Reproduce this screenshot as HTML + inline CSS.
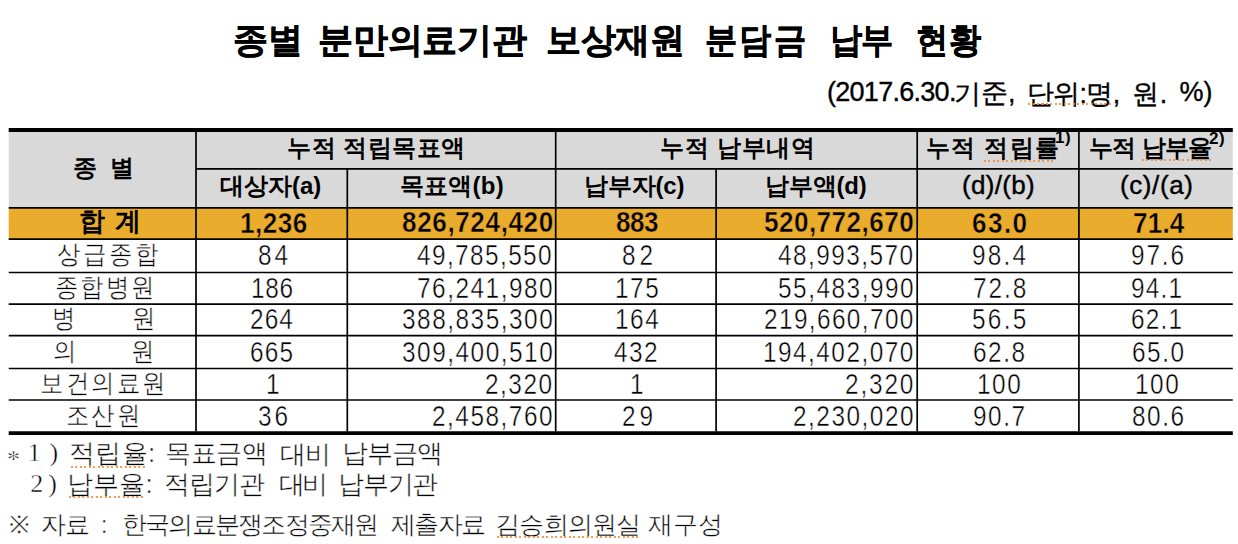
<!DOCTYPE html>
<html><head><meta charset="utf-8">
<style>
html,body{margin:0;padding:0;background:#fff;}
body{width:1238px;height:544px;position:relative;overflow:hidden;font-family:"Liberation Sans",sans-serif;color:#000;}
.a{position:absolute;}
.ln{position:absolute;background:#111;}
.t{position:absolute;white-space:pre;line-height:1;}

</style></head><body>

<svg class="a" width="1238" height="544" style="left:0;top:0;">
<g class="bg"><rect x="8.7" y="131" width="1224.1" height="77" fill="#d9d9d9"/>
<rect x="8.7" y="208" width="1224.1" height="31" fill="#e9ac2c"/></g>
<g class="ln" stroke="#000" stroke-width="1.7" fill="none">
<path d="M8.7 130H1232.8" stroke-width="4"/>
<path d="M196 168.8H1232.8"/>
<path d="M8.7 207.8H1232.8"/>
<path d="M8.7 239.1H1232.8"/>
<path d="M8.7 272.5H1232.8"/>
<path d="M8.7 304.1H1232.8"/>
<path d="M8.7 335.6H1232.8"/>
<path d="M8.7 368.5H1232.8"/>
<path d="M8.7 400H1232.8"/>
<path d="M8.7 433.1H1232.8" stroke-width="3.8"/>
<path d="M196 132V431.5"/>
<path d="M347.3 168.8V431.5"/>
<path d="M555.7 132V431.5"/>
<path d="M716.1 168.8V431.5"/>
<path d="M917.2 132V431.5"/>
<path d="M1078.9 132V431.5"/>
</g></svg>

<div class="t" id="ti0" style="left:232.50px;top:21.50px;font-size:35px;letter-spacing:0.900px;font-weight:bold;-webkit-text-stroke:0.5px #000;">종별</div>
<div class="t" id="ti1" style="left:318.00px;top:21.50px;font-size:35px;letter-spacing:-0.180px;font-weight:bold;-webkit-text-stroke:0.5px #000;">분만의료기관</div>
<div class="t" id="ti2" style="left:546.00px;top:21.50px;font-size:35px;letter-spacing:-0.300px;font-weight:bold;-webkit-text-stroke:0.5px #000;">보상재원</div>
<div class="t" id="ti3" style="left:705.00px;top:21.50px;font-size:35px;letter-spacing:2.446px;font-weight:bold;-webkit-text-stroke:0.5px #000;transform:scaleX(0.92);transform-origin:0 0;">분담금</div>
<div class="t" id="ti4" style="left:830.00px;top:21.50px;font-size:35px;letter-spacing:-0.978px;font-weight:bold;-webkit-text-stroke:0.5px #000;transform:scaleX(0.92);transform-origin:0 0;">납부</div>
<div class="t" id="ti5" style="left:916.00px;top:21.50px;font-size:35px;letter-spacing:0.978px;font-weight:bold;-webkit-text-stroke:0.5px #000;transform:scaleX(0.92);transform-origin:0 0;">현황</div>
<div class="t" id="st0" style="left:827.00px;top:79.30px;font-size:27px;letter-spacing:-0.720px;font-weight:normal;-webkit-text-stroke:0.35px #000;">(2017.6.30.</div>
<div class="t" id="st1" style="left:953.90px;top:81.30px;font-size:27px;letter-spacing:0.000px;font-weight:normal;-webkit-text-stroke:0.35px #000;">기</div>
<div class="t" id="st2" style="left:981.00px;top:80.30px;font-size:27px;letter-spacing:0.000px;font-weight:normal;-webkit-text-stroke:0.35px #000;">준,</div>
<div class="t" id="st3" style="left:1026.50px;top:81.30px;font-size:27px;letter-spacing:-0.540px;font-weight:normal;-webkit-text-stroke:0.35px #000;">단위:명,</div>
<div class="t" id="st4" style="left:1131.60px;top:81.30px;font-size:27px;letter-spacing:1.260px;font-weight:normal;-webkit-text-stroke:0.35px #000;">원.</div>
<div class="t" id="st5" style="left:1179.50px;top:79.30px;font-size:27px;letter-spacing:0.000px;font-weight:normal;-webkit-text-stroke:0.35px #000;">%)</div>
<div class="t" id="h0" style="left:73.00px;top:155.80px;font-size:24px;letter-spacing:12.600px;font-weight:bold;">종별</div>
<div class="t" id="h1" style="left:287.00px;top:135.70px;font-size:24px;letter-spacing:0.514px;font-weight:bold;">누적 적립목표액</div>
<div class="t" id="h2" style="left:660.00px;top:135.70px;font-size:24px;letter-spacing:0.750px;font-weight:bold;">누적 납부내역</div>
<div class="t" id="h3" style="left:926.00px;top:135.70px;font-size:24px;letter-spacing:1.260px;font-weight:bold;">누적 적립률</div>
<div class="t" id="sup1" style="left:1055.10px;top:129.30px;font-size:17px;letter-spacing:0.540px;font-weight:bold;">1)</div>
<div class="t" id="h4" style="left:1089.00px;top:135.70px;font-size:24px;letter-spacing:-0.720px;font-weight:bold;">누적 납부율</div>
<div class="t" id="sup2" style="left:1209.00px;top:129.50px;font-size:17px;letter-spacing:0.540px;font-weight:bold;">2)</div>
<div class="t" id="h5" style="left:220.00px;top:173.90px;font-size:24px;letter-spacing:0.000px;font-weight:bold;">대상자(a)</div>
<div class="t" id="h6" style="left:399.60px;top:173.90px;font-size:24px;letter-spacing:0.288px;font-weight:bold;">목표액(b)</div>
<div class="t" id="h7" style="left:584.00px;top:173.90px;font-size:24px;letter-spacing:-0.180px;font-weight:bold;">납부자(c)</div>
<div class="t" id="h8" style="left:765.00px;top:173.90px;font-size:24px;letter-spacing:-0.180px;font-weight:bold;">납부액(d)</div>
<div class="t" id="h9" style="left:962.00px;top:172.10px;font-size:26px;letter-spacing:0.300px;font-weight:normal;-webkit-text-stroke:0.4px #000;">(d)/(b)</div>
<div class="t" id="h10" style="left:1120.00px;top:172.10px;font-size:26px;letter-spacing:0.600px;font-weight:normal;-webkit-text-stroke:0.4px #000;">(c)/(a)</div>
<div class="t" id="t0" style="left:79.00px;top:207.80px;font-size:26px;letter-spacing:9.600px;font-weight:bold;">합계</div>
<div class="t" id="t1" style="left:240.00px;top:208.80px;font-size:29px;letter-spacing:0.550px;font-weight:bold;transform:scaleX(0.9);transform-origin:0 0;-webkit-text-stroke:0.5px #e9ac2c;">1,236</div>
<div class="t" id="t2" style="left:402.00px;top:208.20px;font-size:29px;letter-spacing:0.680px;font-weight:bold;transform:scaleX(0.9);transform-origin:0 0;-webkit-text-stroke:0.5px #e9ac2c;">826,724,420</div>
<div class="t" id="t3" style="left:616.00px;top:208.20px;font-size:29px;letter-spacing:-0.600px;font-weight:bold;transform:scaleX(0.9);transform-origin:0 0;-webkit-text-stroke:0.5px #e9ac2c;">883</div>
<div class="t" id="t4" style="left:764.00px;top:208.20px;font-size:29px;letter-spacing:0.500px;font-weight:bold;transform:scaleX(0.9);transform-origin:0 0;-webkit-text-stroke:0.5px #e9ac2c;">520,772,670</div>
<div class="t" id="t5" style="left:972.20px;top:208.60px;font-size:29px;letter-spacing:1.600px;font-weight:bold;transform:scaleX(0.9);transform-origin:0 0;-webkit-text-stroke:0.5px #e9ac2c;">63.0</div>
<div class="t" id="t6" style="left:1133.30px;top:208.60px;font-size:29px;letter-spacing:0.200px;font-weight:bold;transform:scaleX(0.9);transform-origin:0 0;-webkit-text-stroke:0.5px #e9ac2c;">71.4</div>
<div class="t" id="r0c0" style="left:56.90px;top:241.25px;font-size:26px;letter-spacing:2.733px;font-weight:normal;-webkit-text-stroke:0.45px #fff;transform:scaleX(0.9);transform-origin:0 0;">상급종합</div>
<div class="t" id="r0c1" style="left:257.80px;top:241.25px;font-size:29px;letter-spacing:3.586px;font-weight:normal;-webkit-text-stroke:0.45px #fff;transform:scaleX(0.84);transform-origin:0 0;">84</div>
<div class="t" id="r0c2" style="left:417.20px;top:241.25px;font-size:29px;letter-spacing:1.681px;font-weight:normal;-webkit-text-stroke:0.45px #fff;transform:scaleX(0.84);transform-origin:0 0;">49,785,550</div>
<div class="t" id="r0c3" style="left:622.00px;top:241.25px;font-size:29px;letter-spacing:4.657px;font-weight:normal;-webkit-text-stroke:0.45px #fff;transform:scaleX(0.84);transform-origin:0 0;">82</div>
<div class="t" id="r0c4" style="left:777.60px;top:241.25px;font-size:29px;letter-spacing:1.752px;font-weight:normal;-webkit-text-stroke:0.45px #fff;transform:scaleX(0.84);transform-origin:0 0;">48,993,570</div>
<div class="t" id="r0c5" style="left:972.00px;top:241.25px;font-size:29px;letter-spacing:2.586px;font-weight:normal;-webkit-text-stroke:0.45px #fff;transform:scaleX(0.84);transform-origin:0 0;">98.4</div>
<div class="t" id="r0c6" style="left:1131.00px;top:241.25px;font-size:29px;letter-spacing:2.229px;font-weight:normal;-webkit-text-stroke:0.45px #fff;transform:scaleX(0.84);transform-origin:0 0;">97.6</div>
<div class="t" id="r1c0" style="left:54.80px;top:273.75px;font-size:26px;letter-spacing:2.133px;font-weight:normal;-webkit-text-stroke:0.45px #fff;transform:scaleX(0.9);transform-origin:0 0;">종합병원</div>
<div class="t" id="r1c1" style="left:251.00px;top:273.75px;font-size:29px;letter-spacing:0.800px;font-weight:normal;-webkit-text-stroke:0.45px #fff;transform:scaleX(0.84);transform-origin:0 0;">186</div>
<div class="t" id="r1c2" style="left:416.80px;top:273.75px;font-size:29px;letter-spacing:1.813px;font-weight:normal;-webkit-text-stroke:0.45px #fff;transform:scaleX(0.84);transform-origin:0 0;">76,241,980</div>
<div class="t" id="r1c3" style="left:615.20px;top:273.75px;font-size:29px;letter-spacing:1.813px;font-weight:normal;-webkit-text-stroke:0.45px #fff;transform:scaleX(0.84);transform-origin:0 0;">175</div>
<div class="t" id="r1c4" style="left:778.00px;top:273.75px;font-size:29px;letter-spacing:1.813px;font-weight:normal;-webkit-text-stroke:0.45px #fff;transform:scaleX(0.84);transform-origin:0 0;">55,483,990</div>
<div class="t" id="r1c5" style="left:972.60px;top:273.75px;font-size:29px;letter-spacing:2.371px;font-weight:normal;-webkit-text-stroke:0.45px #fff;transform:scaleX(0.84);transform-origin:0 0;">72.8</div>
<div class="t" id="r1c6" style="left:1131.00px;top:273.75px;font-size:29px;letter-spacing:1.443px;font-weight:normal;-webkit-text-stroke:0.45px #fff;transform:scaleX(0.84);transform-origin:0 0;">94.1</div>
<div class="t" id="r2c0" style="left:52.00px;top:305.25px;font-size:26px;letter-spacing:63.200px;font-weight:normal;-webkit-text-stroke:0.45px #fff;transform:scaleX(0.9);transform-origin:0 0;">병원</div>
<div class="t" id="r2c1" style="left:250.00px;top:305.25px;font-size:29px;letter-spacing:1.336px;font-weight:normal;-webkit-text-stroke:0.45px #fff;transform:scaleX(0.84);transform-origin:0 0;">264</div>
<div class="t" id="r2c2" style="left:401.80px;top:305.25px;font-size:29px;letter-spacing:1.813px;font-weight:normal;-webkit-text-stroke:0.45px #fff;transform:scaleX(0.84);transform-origin:0 0;">388,835,300</div>
<div class="t" id="r2c3" style="left:614.70px;top:305.25px;font-size:29px;letter-spacing:1.813px;font-weight:normal;-webkit-text-stroke:0.45px #fff;transform:scaleX(0.84);transform-origin:0 0;">164</div>
<div class="t" id="r2c4" style="left:763.60px;top:305.25px;font-size:29px;letter-spacing:1.657px;font-weight:normal;-webkit-text-stroke:0.45px #fff;transform:scaleX(0.84);transform-origin:0 0;">219,660,700</div>
<div class="t" id="r2c5" style="left:971.60px;top:305.25px;font-size:29px;letter-spacing:2.729px;font-weight:normal;-webkit-text-stroke:0.45px #fff;transform:scaleX(0.84);transform-origin:0 0;">56.5</div>
<div class="t" id="r2c6" style="left:1131.00px;top:305.25px;font-size:29px;letter-spacing:1.443px;font-weight:normal;-webkit-text-stroke:0.45px #fff;transform:scaleX(0.84);transform-origin:0 0;">62.1</div>
<div class="t" id="r3c0" style="left:53.40px;top:338.00px;font-size:26px;letter-spacing:61.000px;font-weight:normal;-webkit-text-stroke:0.45px #fff;transform:scaleX(0.9);transform-origin:0 0;">의원</div>
<div class="t" id="r3c1" style="left:250.00px;top:338.00px;font-size:29px;letter-spacing:1.443px;font-weight:normal;-webkit-text-stroke:0.45px #fff;transform:scaleX(0.84);transform-origin:0 0;">665</div>
<div class="t" id="r3c2" style="left:401.80px;top:338.00px;font-size:29px;letter-spacing:1.813px;font-weight:normal;-webkit-text-stroke:0.45px #fff;transform:scaleX(0.84);transform-origin:0 0;">309,400,510</div>
<div class="t" id="r3c3" style="left:614.20px;top:338.00px;font-size:29px;letter-spacing:1.764px;font-weight:normal;-webkit-text-stroke:0.45px #fff;transform:scaleX(0.84);transform-origin:0 0;">432</div>
<div class="t" id="r3c4" style="left:763.20px;top:338.00px;font-size:29px;letter-spacing:1.764px;font-weight:normal;-webkit-text-stroke:0.45px #fff;transform:scaleX(0.84);transform-origin:0 0;">194,402,070</div>
<div class="t" id="r3c5" style="left:973.20px;top:338.00px;font-size:29px;letter-spacing:1.813px;font-weight:normal;-webkit-text-stroke:0.45px #fff;transform:scaleX(0.84);transform-origin:0 0;">62.8</div>
<div class="t" id="r3c6" style="left:1131.80px;top:338.00px;font-size:29px;letter-spacing:1.813px;font-weight:normal;-webkit-text-stroke:0.45px #fff;transform:scaleX(0.84);transform-origin:0 0;">65.0</div>
<div class="t" id="r4c0" style="left:40.40px;top:369.75px;font-size:26px;letter-spacing:2.400px;font-weight:normal;-webkit-text-stroke:0.45px #fff;transform:scaleX(0.9);transform-origin:0 0;">보건의료원</div>
<div class="t" id="r4c1" style="left:265.60px;top:369.75px;font-size:29px;letter-spacing:1.813px;font-weight:normal;-webkit-text-stroke:0.45px #fff;transform:scaleX(0.84);transform-origin:0 0;">1</div>
<div class="t" id="r4c2" style="left:484.80px;top:369.75px;font-size:29px;letter-spacing:1.813px;font-weight:normal;-webkit-text-stroke:0.45px #fff;transform:scaleX(0.84);transform-origin:0 0;">2,320</div>
<div class="t" id="r4c3" style="left:630.20px;top:369.75px;font-size:29px;letter-spacing:1.813px;font-weight:normal;-webkit-text-stroke:0.45px #fff;transform:scaleX(0.84);transform-origin:0 0;">1</div>
<div class="t" id="r4c4" style="left:845.00px;top:369.75px;font-size:29px;letter-spacing:2.193px;font-weight:normal;-webkit-text-stroke:0.45px #fff;transform:scaleX(0.84);transform-origin:0 0;">2,320</div>
<div class="t" id="r4c5" style="left:976.70px;top:369.75px;font-size:29px;letter-spacing:1.813px;font-weight:normal;-webkit-text-stroke:0.45px #fff;transform:scaleX(0.84);transform-origin:0 0;">100</div>
<div class="t" id="r4c6" style="left:1135.30px;top:369.75px;font-size:29px;letter-spacing:1.813px;font-weight:normal;-webkit-text-stroke:0.45px #fff;transform:scaleX(0.84);transform-origin:0 0;">100</div>
<div class="t" id="r5c0" style="left:66.10px;top:401.50px;font-size:26px;letter-spacing:2.200px;font-weight:normal;-webkit-text-stroke:0.45px #fff;transform:scaleX(0.9);transform-origin:0 0;">조산원</div>
<div class="t" id="r5c1" style="left:257.80px;top:401.50px;font-size:29px;letter-spacing:3.586px;font-weight:normal;-webkit-text-stroke:0.45px #fff;transform:scaleX(0.84);transform-origin:0 0;">36</div>
<div class="t" id="r5c2" style="left:431.80px;top:401.50px;font-size:29px;letter-spacing:1.813px;font-weight:normal;-webkit-text-stroke:0.45px #fff;transform:scaleX(0.84);transform-origin:0 0;">2,458,760</div>
<div class="t" id="r5c3" style="left:622.00px;top:401.50px;font-size:29px;letter-spacing:4.657px;font-weight:normal;-webkit-text-stroke:0.45px #fff;transform:scaleX(0.84);transform-origin:0 0;">29</div>
<div class="t" id="r5c4" style="left:793.00px;top:401.50px;font-size:29px;letter-spacing:1.813px;font-weight:normal;-webkit-text-stroke:0.45px #fff;transform:scaleX(0.84);transform-origin:0 0;">2,230,020</div>
<div class="t" id="r5c5" style="left:973.20px;top:401.50px;font-size:29px;letter-spacing:1.813px;font-weight:normal;-webkit-text-stroke:0.45px #fff;transform:scaleX(0.84);transform-origin:0 0;">90.7</div>
<div class="t" id="r5c6" style="left:1131.80px;top:401.50px;font-size:29px;letter-spacing:1.813px;font-weight:normal;-webkit-text-stroke:0.45px #fff;transform:scaleX(0.84);transform-origin:0 0;">80.6</div>
<div class="t" id="f10" style="left:7.10px;top:446.70px;font-size:26px;letter-spacing:0.000px;font-weight:normal;font-family:'Liberation Serif',serif;-webkit-text-stroke:0.45px #fff;">*</div>
<div class="t" id="f11" style="left:27.80px;top:440.00px;font-size:26px;letter-spacing:8.820px;font-weight:normal;font-family:'Liberation Serif',serif;-webkit-text-stroke:0.45px #fff;">1)</div>
<div class="t" id="f12" style="left:68.50px;top:440.00px;font-size:26px;letter-spacing:0.540px;font-weight:normal;-webkit-text-stroke:0.45px #fff;">적립율:</div>
<div class="t" id="f13" style="left:165.40px;top:440.00px;font-size:26px;letter-spacing:-0.600px;font-weight:normal;-webkit-text-stroke:0.45px #fff;">목표금액</div>
<div class="t" id="f14" style="left:280.40px;top:440.50px;font-size:26px;letter-spacing:-1.260px;font-weight:normal;-webkit-text-stroke:0.45px #fff;">대비</div>
<div class="t" id="f15" style="left:341.50px;top:440.00px;font-size:26px;letter-spacing:-0.840px;font-weight:normal;-webkit-text-stroke:0.45px #fff;">납부금액</div>
<div class="t" id="f21" style="left:30.20px;top:470.70px;font-size:26px;letter-spacing:5.040px;font-weight:normal;font-family:'Liberation Serif',serif;-webkit-text-stroke:0.45px #fff;">2)</div>
<div class="t" id="f22" style="left:66.90px;top:470.70px;font-size:26px;letter-spacing:0.240px;font-weight:normal;-webkit-text-stroke:0.45px #fff;">납부율:</div>
<div class="t" id="f23" style="left:164.40px;top:470.70px;font-size:26px;letter-spacing:-1.200px;font-weight:normal;-webkit-text-stroke:0.45px #fff;">적립기관</div>
<div class="t" id="f24" style="left:279.10px;top:470.70px;font-size:26px;letter-spacing:-3.420px;font-weight:normal;-webkit-text-stroke:0.45px #fff;">대비</div>
<div class="t" id="f25" style="left:337.90px;top:470.70px;font-size:26px;letter-spacing:-1.140px;font-weight:normal;-webkit-text-stroke:0.45px #fff;">납부기관</div>
<div class="t" id="f30" style="left:8.50px;top:512.50px;font-size:24.5px;letter-spacing:0.000px;font-weight:normal;-webkit-text-stroke:0.45px #fff;">※</div>
<div class="t" id="f31" style="left:40.60px;top:512.70px;font-size:24.5px;letter-spacing:-0.720px;font-weight:normal;-webkit-text-stroke:0.45px #fff;">자료</div>
<div class="t" id="f32" style="left:100.80px;top:512.70px;font-size:24.5px;letter-spacing:0.000px;font-weight:normal;-webkit-text-stroke:0.45px #fff;">:</div>
<div class="t" id="f33" style="left:121.80px;top:512.70px;font-size:24.5px;letter-spacing:-1.746px;font-weight:normal;-webkit-text-stroke:0.45px #fff;">한국의료분쟁조정중재원</div>
<div class="t" id="f34" style="left:390.50px;top:512.70px;font-size:24.5px;letter-spacing:-1.440px;font-weight:normal;-webkit-text-stroke:0.45px #fff;">제출자료</div>
<div class="t" id="f35" style="left:495.00px;top:512.70px;font-size:24.5px;letter-spacing:-0.720px;font-weight:normal;-webkit-text-stroke:0.45px #fff;">김승희의원실</div>
<div class="t" id="f36" style="left:648.20px;top:512.70px;font-size:24.5px;letter-spacing:-0.180px;font-weight:normal;-webkit-text-stroke:0.45px #fff;">재구성</div>
<style>.wv{position:absolute;height:2px;background:repeating-linear-gradient(90deg,rgba(238,140,60,.85) 0 2px,transparent 2px 4.5px);}</style>
<div class="wv deco" style="left:984px;top:159.5px;width:71px;"></div>
<div class="wv deco" style="left:1142px;top:159px;width:69px;"></div>
<div class="wv deco" style="left:1028px;top:102.5px;width:84px;"></div>
<div class="wv deco" style="left:71px;top:466px;width:75px;"></div>
<div class="wv deco" style="left:69px;top:496px;width:75px;"></div>
<div class="wv deco" style="left:497px;top:535.5px;width:141px;"></div>


</body></html>
